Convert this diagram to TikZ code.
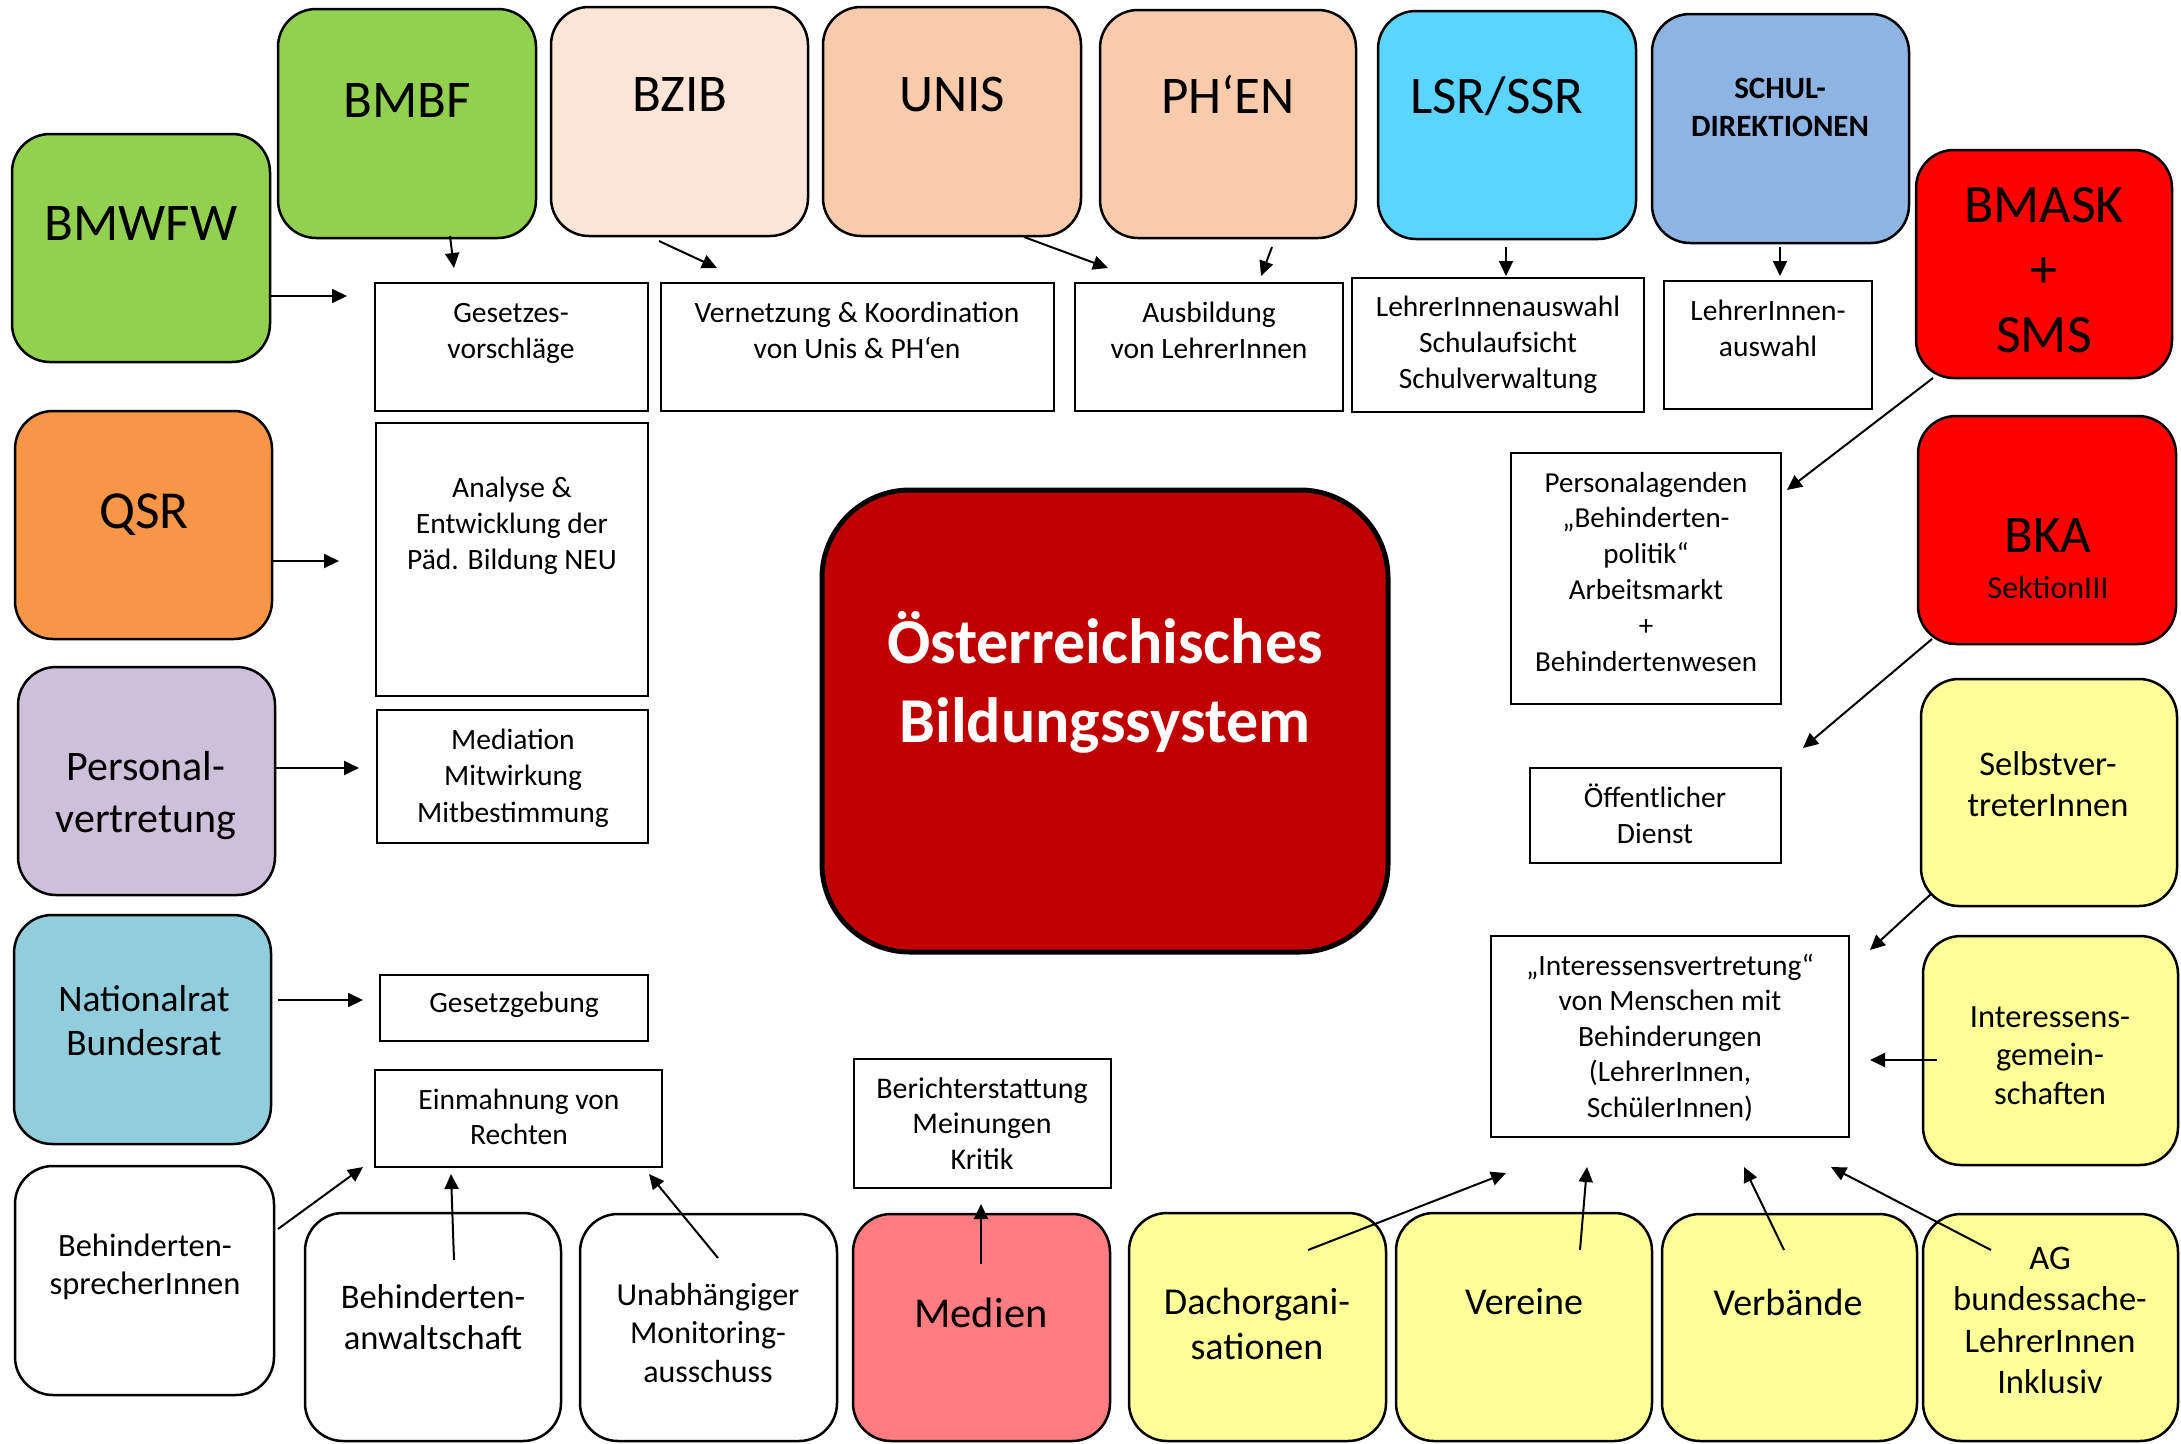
\documentclass[tikz,border=0pt]{standalone}
\usepackage{fontspec}
\setmainfont{Carlito}
\usetikzlibrary{arrows.meta}
\definecolor{cgreen}{HTML}{92D050}
\definecolor{cpeachl}{HTML}{FBE5D6}
\definecolor{cpeach}{HTML}{F8CBAD}
\definecolor{ccyan}{HTML}{5BD4FF}
\definecolor{cblue}{HTML}{8EB4E3}
\definecolor{cred}{HTML}{FF0000}
\definecolor{corange}{HTML}{F79646}
\definecolor{clilac}{HTML}{CCC0DA}
\definecolor{cnr}{HTML}{92CDDC}
\definecolor{cpink}{HTML}{FF7C80}
\definecolor{cyel}{HTML}{FFFF99}
\definecolor{cdark}{HTML}{C00000}
\newcommand\fs[2]{\fontsize{#1}{#2}\selectfont}
% name, left, top, right, bottom, style
\newcommand\bx[6]{\node[#6, minimum width={(#4-#2)*1pt}, minimum height={(#5-#3)*1pt}] (#1) at ({(#2+#4)/2},{(#3+#5)/2}) {};}
\tikzset{
  rbox/.style={draw=black, line width=2.5pt, rounded corners=38pt, inner sep=0pt, outer sep=0pt},
  sbox/.style={draw=black, line width=2pt, fill=white, inner sep=0pt, outer sep=0pt},
  txt/.style={anchor=base, align=center, inner sep=0pt, outer sep=0pt},
  arr/.style={line width=2pt, -{Triangle[length=15pt,width=14pt]}},
}
\begin{document}
\begin{tikzpicture}[x=1pt,y=-1pt]
\useasboundingbox[fill=white] (0,0) rectangle (2181,1443);
% rounded boxes
\bx{bmwfw}{12}{134}{270}{362}{rbox, fill=cgreen}
\bx{bmbf}{278}{9}{536}{238}{rbox, fill=cgreen}
\bx{bzib}{551}{7}{808}{236}{rbox, fill=cpeachl}
\bx{unis}{823}{7}{1081}{236}{rbox, fill=cpeach}
\bx{phen}{1100}{10}{1356}{238}{rbox, fill=cpeach}
\bx{lsr}{1378}{11}{1636}{239}{rbox, fill=ccyan}
\bx{schul}{1652}{14}{1909}{243}{rbox, fill=cblue}
\bx{bmask}{1916}{150}{2172}{378}{rbox, fill=cred}
\bx{qsr}{15}{411}{272}{639}{rbox, fill=corange}
\bx{pers}{18}{667}{275}{895}{rbox, fill=clilac}
\bx{nr}{14}{915}{271}{1144}{rbox, fill=cnr}
\bx{sprech}{15}{1166}{274}{1395}{rbox, fill=white}
\bx{anwalt}{305}{1213}{561}{1441}{rbox, fill=white}
\bx{unab}{580}{1214}{837}{1441}{rbox, fill=white}
\bx{medien}{853}{1214}{1110}{1441}{rbox, fill=cpink}
\bx{dach}{1129}{1213}{1386}{1441}{rbox, fill=cyel}
\bx{vereine}{1396}{1213}{1652}{1441}{rbox, fill=cyel}
\bx{verb}{1662}{1214}{1917}{1441}{rbox, fill=cyel}
\bx{ag}{1923}{1214}{2178}{1441}{rbox, fill=cyel}
\bx{gemein}{1923}{936}{2178}{1165}{rbox, fill=cyel}
\bx{selbst}{1921}{679}{2177}{906}{rbox, fill=cyel}
\bx{bka}{1918}{416}{2176}{644}{rbox, fill=cred}
\bx{central}{822}{490}{1388}{952}{rbox, fill=cdark, line width=5pt, rounded corners=88pt}
% rectangles
\bx{gesetzes}{375}{283}{648}{411}{sbox}
\bx{vernetz}{661}{283}{1054}{411}{sbox}
\bx{ausb}{1075}{283}{1343}{411}{sbox}
\bx{lauswahl}{1352}{278}{1644}{412}{sbox}
\bx{lausw}{1664}{281}{1872}{409}{sbox}
\bx{analyse}{376}{423}{648}{696}{sbox}
\bx{mediation}{377}{710}{648}{843}{sbox}
\bx{gesetzgeb}{380}{975}{648}{1041}{sbox}
\bx{einmahn}{375}{1070}{662}{1167}{sbox}
\bx{bericht}{854}{1059}{1111}{1188}{sbox}
\bx{personal}{1511}{453}{1781}{704}{sbox}
\bx{oeff}{1530}{768}{1781}{863}{sbox}
\bx{interv}{1491}{936}{1849}{1137}{sbox}
% texts (anchor = baseline of the last line)
\node[txt, font=\fs{53}{60}] (t-bmwfw) at (141,240) {BMWFW};
\node[txt, font=\fs{53}{60}] (t-bmbf) at (407,117) {BMBF};
\node[txt, font=\fs{53}{60}] (t-bzib) at (680,111) {BZIB};
\node[txt, font=\fs{53}{60}] (t-unis) at (952,111) {UNIS};
\node[txt, font=\fs{53}{60}] (t-phen) at (1228,113) {PH‘EN};
\node[txt, font=\fs{53}{60}] (t-lsr) at (1497,113) {LSR/SSR};
\node[txt, font=\bfseries\fs{31}{38}] (t-schul) at (1780,136) {SCHUL-\\DIREKTIONEN};
\node[txt, font=\fs{54}{65}] (t-bmask) at (2044,352) {BMASK\\+\\SMS};
\node[txt, font=\fs{29.5}{36}] (t-gesetzes) at (511,358) {Gesetzes-\\vorschläge};
\node[txt, font=\fs{29.5}{36}] (t-vernetz) at (857,358) {Vernetzung \& Koordination\\von Unis \& PH‘en};
\node[txt, font=\fs{29.5}{36}] (t-ausb) at (1209,358) {Ausbildung\\von LehrerInnen};
\node[txt, font=\fs{29.5}{36}] (t-lauswahl) at (1498,388) {LehrerInnenauswahl\\Schulaufsicht\\Schulverwaltung};
\node[txt, font=\fs{29.5}{36}] (t-lausw) at (1768,356) {LehrerInnen-\\auswahl};
\node[txt, font=\fs{53.5}{60}] (t-qsr) at (144,528) {QSR};
\node[txt, font=\fs{29.5}{36}] (t-analyse) at (512,569) {Analyse \&\\Entwicklung der\\Päd. Bildung NEU};
\node[txt, font=\fs{42}{52}] (t-pers) at (146,832) {Personal-\\vertretung};
\node[txt, font=\fs{29.5}{36.5}] (t-mediation) at (513,822) {Mediation\\Mitwirkung\\Mitbestimmung};
\node[txt, font=\fs{37.5}{44}] (t-nr) at (144,1055) {Nationalrat\\Bundesrat};
\node[txt, font=\fs{29.5}{36}] (t-gesetzgeb) at (514,1012) {Gesetzgebung};
\node[txt, font=\fs{29.5}{35}] (t-einmahn) at (519,1144) {Einmahnung von\\Rechten};
\node[txt, font=\fs{32.5}{38}] (t-sprech) at (145,1294) {Behinderten-\\sprecherInnen};
\node[txt, font=\fs{34.5}{41.5}] (t-anwalt) at (433,1349.5) {Behinderten-\\anwaltschaft};
\node[txt, font=\fs{32}{38.5}] (t-unab) at (708,1382) {Unabhängiger\\Monitoring-\\ausschuss};
\node[txt, font=\fs{42.5}{48}] (t-medien) at (981,1327) {Medien};
\node[txt, font=\fs{30}{35.5}] (t-bericht) at (982,1169) {Berichterstattung\\Meinungen\\Kritik};
\node[txt, font=\fs{29.5}{35.5}] (t-interv) at (1670,1117) {„Interessensvertretung“\\von Menschen mit\\Behinderungen\\(LehrerInnen,\\SchülerInnen)};
\node[txt, font=\fs{32.5}{38.5}] (t-gemein) at (2050,1104) {Interessens-\\gemein-\\schaften};
\node[txt, font=\fs{38}{45}] (t-dach) at (1257,1359) {Dachorgani-\\sationen};
\node[txt, font=\fs{38}{45}] (t-vereine) at (1524,1314) {Vereine};
\node[txt, font=\fs{38}{45}] (t-verb) at (1788,1315) {Verbände};
\node[txt, font=\fs{34.5}{41.5}] (t-ag) at (2050,1393.5) {AG\\bundessache-\\LehrerInnen\\Inklusiv};
\node[txt, font=\fs{34.5}{41.7}] (t-selbst) at (2048,816.7) {Selbstver-\\treterInnen};
\node[txt, font=\fs{53}{56}] (t-bka) at (2048,552) {BKA};
\node[txt, font=\fs{32}{36}] (t-sektion) at (2048,598) {SektionIII};
\node[txt, font=\fs{29}{35.8}] (t-personal) at (1646,671) {Personalagenden\\„Behinderten-\\politik“\\Arbeitsmarkt\\+\\Behindertenwesen};
\node[txt, font=\fs{29.5}{36}] (t-oeff) at (1655,843) {Öffentlicher\\Dienst};
\node[txt, font=\bfseries\fs{64}{79}, text=white] (t-central) at (1105,742) {Österreichisches\\Bildungssystem};
% arrow end points
\coordinate (a1s) at (271,296);  \coordinate (a1e) at (347,296);
\coordinate (a2s) at (450,236);  \coordinate (a2e) at (454,268);
\coordinate (a3s) at (659,241);  \coordinate (a3e) at (717,268);
\coordinate (a4s) at (1024,237); \coordinate (a4e) at (1108,268);
\coordinate (a5s) at (1272,247); \coordinate (a5e) at (1261,276);
\coordinate (a6s) at (1506,247); \coordinate (a6e) at (1506,276);
\coordinate (a7s) at (1780,247); \coordinate (a7e) at (1780,276);
\coordinate (a8s) at (1933,378); \coordinate (a8e) at (1787,490);
\coordinate (a9s) at (271,561);  \coordinate (a9e) at (339,561);
\coordinate (a10s) at (275,768); \coordinate (a10e) at (359,768);
\coordinate (a11s) at (278,1000); \coordinate (a11e) at (363,1000);
\coordinate (a12s) at (1932,639); \coordinate (a12e) at (1803,748);
\coordinate (a13s) at (1931,894); \coordinate (a13e) at (1870,950);
\coordinate (a14s) at (1937,1060); \coordinate (a14e) at (1870,1060);
\coordinate (a15s) at (278,1229); \coordinate (a15e) at (363,1167);
\coordinate (a16s) at (454,1260); \coordinate (a16e) at (451,1174);
\coordinate (a17s) at (718,1258); \coordinate (a17e) at (649,1174);
\coordinate (a18s) at (981,1264); \coordinate (a18e) at (981,1204);
\coordinate (a19s) at (1308,1250); \coordinate (a19e) at (1506,1173);
\coordinate (a20s) at (1580,1250); \coordinate (a20e) at (1587,1167);
\coordinate (a21s) at (1784,1250); \coordinate (a21e) at (1744,1167);
\coordinate (a22s) at (1991,1250); \coordinate (a22e) at (1831,1167);
\foreach \i in {1,...,22} { \draw[arr] (a\i s) -- (a\i e); }
\end{tikzpicture}
\end{document}
